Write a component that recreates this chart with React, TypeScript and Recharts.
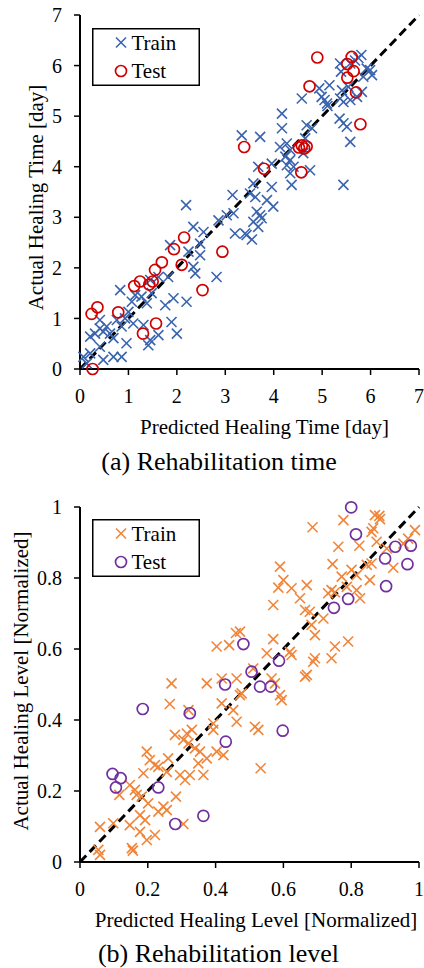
import React from 'react';
import { ScatterChart, Scatter, XAxis, YAxis, ReferenceLine, Legend } from 'recharts';

const FONT = '"Liberation Serif", "Times New Roman", Times, serif';

// ---------- (a) Rehabilitation time ----------
const timeTicks = [0, 1, 2, 3, 4, 5, 6, 7];
const timeTrain: number[][] = [
  [5.81, 6.21], [5.75, 6.15], [5.68, 6.1], [5.58, 6.04], [5.37, 6.04], [5.39, 5.88], [5.99, 5.91], [5.92, 5.94], [6.03, 5.81], [5.85, 5.78],
  [5.15, 5.61], [4.94, 5.55], [4.99, 5.38], [5.05, 5.32], [5.1, 5.25], [5.11, 5.2], [4.58, 5.35], [5.37, 5.35], [5.44, 5.28], [5.58, 5.32],
  [5.72, 5.38], [5.82, 5.48], [5.41, 5.51], [5.54, 5.58], [4.17, 5.05], [4.17, 4.76], [5.36, 4.95], [5.44, 4.86], [5.51, 4.79], [4.68, 4.82],
  [4.79, 4.76], [5.58, 4.49], [3.72, 4.59], [3.34, 4.62], [4.27, 4.46], [4.34, 4.33], [4.65, 4.56], [4.61, 4.27], [4.13, 4.39], [4.34, 4.13],
  [4.27, 4.03], [4.41, 4.0], [4.34, 3.87], [4.75, 3.93], [4.24, 4.2], [3.68, 4.0], [3.96, 4.06], [3.58, 3.67], [5.44, 3.64], [4.37, 3.64],
  [3.96, 3.6], [3.51, 3.47], [3.62, 3.4], [3.86, 3.34], [3.99, 3.21], [3.65, 3.11], [3.72, 3.04], [3.75, 2.98], [3.58, 2.91], [3.68, 2.81],
  [3.44, 2.65], [3.55, 2.56],
  [2.19, 3.24], [3.15, 3.44], [3.17, 3.08], [3.03, 3.04], [2.86, 2.94], [3.41, 2.68], [3.2, 2.68], [2.55, 2.71], [2.34, 2.81], [2.48, 2.48],
  [2.24, 2.32], [2.48, 2.25], [1.86, 2.45], [2.34, 2.02], [2.38, 1.89], [2.82, 1.82], [1.82, 1.82], [1.62, 1.82], [1.45, 1.76], [0.83, 1.56],
  [1.14, 1.46], [1.07, 1.33], [1.27, 1.43], [1.48, 1.5], [1.93, 1.4], [2.2, 1.33], [1.76, 1.26], [1.38, 1.3], [1.0, 1.13], [0.93, 1.0],
  [1.1, 0.9], [1.31, 0.87], [1.89, 0.93], [2.0, 0.7], [1.62, 0.67], [1.45, 0.57], [1.41, 0.47], [0.96, 0.51], [0.69, 0.24], [0.86, 0.24],
  [0.48, 0.18], [0.21, 0.31], [0.41, 0.44], [0.41, 0.8], [0.48, 0.74], [0.55, 0.84], [0.21, 0.64], [0.31, 0.7], [0.62, 0.7], [0.76, 0.97],
  [0.41, 0.97], [0.69, 0.61], [0.86, 0.84], [0.07, 0.24], [0.14, 0.11],
];
const timeTest: number[][] = [
  [4.9, 6.16], [5.61, 6.17], [5.52, 6.03], [5.65, 5.89], [5.52, 5.76], [4.74, 5.59], [5.7, 5.47], [5.79, 4.84], [3.39, 4.39], [4.52, 4.38],
  [4.58, 4.42], [4.63, 4.36], [4.68, 4.4], [3.8, 3.96], [4.57, 3.89], [2.15, 2.6], [1.94, 2.37], [2.94, 2.32], [1.69, 2.11], [2.1, 2.06],
  [1.55, 1.96], [1.24, 1.73], [1.12, 1.64], [1.43, 1.67], [1.5, 1.73], [2.53, 1.56], [0.36, 1.22], [0.24, 1.09], [0.79, 1.12], [1.57, 0.9],
  [1.3, 0.7], [0.26, 0.0],
];
const timeDiagonal = [0, 7];

// ---------- (b) Rehabilitation level ----------
const levelTicks = [0, 0.2, 0.4, 0.6, 0.8, 1];
const levelTrain: number[][] = [
  [0.883, 0.975], [0.885, 0.966], [0.87, 0.977], [0.777, 0.963], [0.686, 0.943], [0.865, 0.94], [0.86, 0.93], [0.988, 0.935], [0.968, 0.911], [0.875, 0.902],
  [0.824, 0.891], [0.762, 0.888], [0.905, 0.883], [0.954, 0.897], [0.86, 0.841], [0.846, 0.837], [0.745, 0.839], [0.924, 0.829], [0.59, 0.832], [0.801, 0.823],
  [0.816, 0.808], [0.772, 0.804], [0.6, 0.794], [0.855, 0.794], [0.669, 0.78], [0.585, 0.773], [0.624, 0.771], [0.742, 0.766], [0.752, 0.76], [0.816, 0.766],
  [0.787, 0.775], [0.732, 0.757], [0.649, 0.743], [0.826, 0.743], [0.57, 0.724], [0.664, 0.71], [0.678, 0.705], [0.718, 0.686], [0.683, 0.668], [0.693, 0.639],
  [0.57, 0.628], [0.791, 0.621], [0.752, 0.607], [0.619, 0.592], [0.624, 0.583], [0.551, 0.588], [0.693, 0.574], [0.688, 0.564], [0.742, 0.574], [0.472, 0.649],
  [0.46, 0.645], [0.403, 0.607], [0.44, 0.611], [0.669, 0.527], [0.664, 0.522], [0.511, 0.545], [0.565, 0.517], [0.27, 0.503], [0.374, 0.503], [0.418, 0.517],
  [0.462, 0.517], [0.575, 0.503], [0.59, 0.47], [0.595, 0.456], [0.516, 0.381], [0.526, 0.372], [0.533, 0.264], [0.472, 0.47], [0.265, 0.445], [0.32, 0.428],
  [0.418, 0.447], [0.452, 0.428], [0.477, 0.475], [0.462, 0.395], [0.393, 0.39], [0.393, 0.372], [0.28, 0.358], [0.315, 0.362], [0.33, 0.372], [0.305, 0.344],
  [0.32, 0.334], [0.339, 0.32], [0.354, 0.311], [0.403, 0.311], [0.423, 0.301], [0.374, 0.292], [0.349, 0.278], [0.197, 0.311], [0.206, 0.287], [0.221, 0.273],
  [0.26, 0.292], [0.231, 0.268], [0.187, 0.25], [0.256, 0.254], [0.295, 0.245], [0.324, 0.245], [0.364, 0.245], [0.31, 0.231], [0.147, 0.217], [0.162, 0.203],
  [0.116, 0.189], [0.167, 0.189], [0.182, 0.184], [0.283, 0.184], [0.201, 0.165], [0.246, 0.156], [0.256, 0.146], [0.231, 0.142], [0.177, 0.132], [0.192, 0.118],
  [0.098, 0.109], [0.147, 0.104], [0.059, 0.099], [0.305, 0.107], [0.177, 0.085], [0.221, 0.076], [0.197, 0.062], [0.153, 0.039], [0.156, 0.032], [0.054, 0.034],
  [0.059, 0.02],
];
const levelTest: number[][] = [
  [0.8, 0.999], [0.814, 0.923], [0.93, 0.888], [0.976, 0.891], [0.9, 0.855], [0.966, 0.839], [0.903, 0.777], [0.791, 0.741], [0.749, 0.716], [0.482, 0.614],
  [0.587, 0.567], [0.506, 0.536], [0.531, 0.494], [0.563, 0.494], [0.598, 0.37], [0.428, 0.5], [0.185, 0.431], [0.324, 0.419], [0.43, 0.339], [0.096, 0.248],
  [0.12, 0.236], [0.106, 0.21], [0.231, 0.21], [0.364, 0.13], [0.281, 0.107],
];
const levelDiagonal = [0, 1];

const legendLabels = ['Train', 'Test'];

const toPts = (a: number[][]) => a.map(([x, y]) => ({ x, y }));

const CrossShape = (color: string) => (props: any) => {
  const { cx, cy } = props;
  if (cx == null || cy == null) return <g />;
  const s = 5;
  return (
    <g stroke={color} strokeWidth={1.6}>
      <line x1={cx - s} y1={cy - s} x2={cx + s} y2={cy + s} />
      <line x1={cx - s} y1={cy + s} x2={cx + s} y2={cy - s} />
    </g>
  );
};

const CircleShape = (color: string) => (props: any) => {
  const { cx, cy } = props;
  if (cx == null || cy == null) return <g />;
  return <circle cx={cx} cy={cy} r={5.5} fill="none" stroke={color} strokeWidth={1.7} />;
};

const LegendBox = ({ c1, c2 }: { c1: string; c2: string }) => (
  <svg width={108} height={58} style={{ display: 'block', overflow: 'visible' }}>
    <rect x={0.75} y={0.75} width={106.5} height={56.5} fill="#fff" stroke="#000" strokeWidth={1.5} />
    <g stroke={c1} strokeWidth={1.6}>
      <line x1={24} y1={9.5} x2={34} y2={19.5} />
      <line x1={24} y1={19.5} x2={34} y2={9.5} />
    </g>
    <circle cx={29} cy={43} r={5.5} fill="none" stroke={c2} strokeWidth={1.7} />
    <text x={39.5} y={21.5} fontFamily={FONT} fontSize={21} fill="#000">{legendLabels[0]}</text>
    <text x={39.5} y={50} fontFamily={FONT} fontSize={21} fill="#000">{legendLabels[1]}</text>
  </svg>
);

const xTitle = (title: string, caption: string, dxTitle: number, captionDx: number, captionDy: number) => (props: any) => {
  const vb = props.viewBox || {};
  const cx = vb.x + vb.width / 2;
  return (
    <g>
      <text x={cx + dxTitle} y={vb.y + 65} textAnchor="middle" fontFamily={FONT} fontSize={21} fill="#000">{title}</text>
      <text x={vb.x + captionDx} y={vb.y + captionDy} textAnchor="middle" fontFamily={FONT} fontSize={26} fill="#000">{caption}</text>
    </g>
  );
};

const yTitle = (title: string, bx: number, dyc: number) => (props: any) => {
  const vb = props.viewBox || {};
  const cy = vb.y + vb.height / 2 + dyc;
  return (
    <text x={bx} y={cy} transform={`rotate(-90 ${bx} ${cy})`} textAnchor="middle" fontFamily={FONT} fontSize={21} fill="#000">{title}</text>
  );
};

const tickStyle = { fontFamily: FONT, fontSize: 20, fill: '#000' };

interface PanelProps {
  width: number;
  height: number;
  margin: any;
  ticks: number[];
  diag: number[];
  train: number[][];
  test: number[][];
  trainColor: string;
  testColor: string;
  xLabel: any;
  yLabel: any;
  legendTop: number;
}

const Panel = (p: PanelProps) => {
  const dom: [number, number] = [p.ticks[0], p.ticks[p.ticks.length - 1]];
  return (
    <ScatterChart width={p.width} height={p.height} margin={p.margin}>
      <XAxis
        type="number" dataKey="x" domain={dom} ticks={p.ticks} interval={0} height={40}
        axisLine={{ stroke: '#000', strokeWidth: 2 }} tickLine={{ stroke: '#000', strokeWidth: 1.5 }}
        tickSize={6} tickMargin={14} tick={tickStyle} label={p.xLabel}
      />
      <YAxis
        type="number" dataKey="y" domain={dom} ticks={p.ticks} interval={0} width={60}
        axisLine={{ stroke: '#000', strokeWidth: 2 }} tickLine={{ stroke: '#000', strokeWidth: 1.5 }}
        tickSize={6} tickMargin={12} tick={tickStyle} label={p.yLabel}
      />
      <XAxis xAxisId="top" orientation="top" type="number" domain={dom} height={0} tick={false} tickLine={false}
        axisLine={{ stroke: '#444', strokeWidth: 1.5 }} />
      <YAxis yAxisId="right" orientation="right" type="number" domain={dom} width={0} tick={false} tickLine={false}
        axisLine={{ stroke: '#444', strokeWidth: 1.5 }} />
      <Scatter name="Train" data={toPts(p.train)} shape={CrossShape(p.trainColor)} isAnimationActive={false} />
      <Scatter name="Test" data={toPts(p.test)} shape={CircleShape(p.testColor)} isAnimationActive={false} />
      <ReferenceLine
        segment={[{ x: p.diag[0], y: p.diag[0] }, { x: p.diag[1], y: p.diag[1] }]}
        stroke="#000" strokeWidth={3} strokeDasharray="9 5" ifOverflow="visible"
      />
      <Legend
        layout="horizontal" verticalAlign="middle" align="center"
        wrapperStyle={{ left: 92, top: p.legendTop, width: 108, height: 58 }}
        content={() => <LegendBox c1={p.trainColor} c2={p.testColor} />}
      />
    </ScatterChart>
  );
};

export default function App() {
  return (
    <div style={{ position: 'absolute', left: 0, top: 0, width: 424, height: 968, background: '#fff' }}>
      <div style={{ position: 'absolute', left: 0, top: 0 }}>
        <Panel
          width={424} height={480}
          margin={{ top: 15, right: 5, bottom: 71, left: 20 }}
          ticks={timeTicks} diag={timeDiagonal}
          train={timeTrain} test={timeTest}
          trainColor="#3a64ad" testColor="#d00000"
          xLabel={xTitle('Predicted Healing Time [day]', '(a) Rehabilitation time', 15, 139, 101)}
          yLabel={yTitle('Actual Healing Time [day]', 43, 5.5)}
          legendTop={28}
        />
      </div>
      <div style={{ position: 'absolute', left: 0, top: 480 }}>
        <Panel
          width={424} height={488}
          margin={{ top: 27, right: 5, bottom: 66, left: 20 }}
          ticks={levelTicks} diag={levelDiagonal}
          train={levelTrain} test={levelTest}
          trainColor="#f0853a" testColor="#7030a0"
          xLabel={xTitle('Predicted Healing Level [Normalized]', '(b) Rehabilitation level', 6.5, 138.5, 100)}
          yLabel={yTitle('Actual Healing Level [Normalized]', 28, -3.5)}
          legendTop={39}
        />
      </div>
    </div>
  );
}
